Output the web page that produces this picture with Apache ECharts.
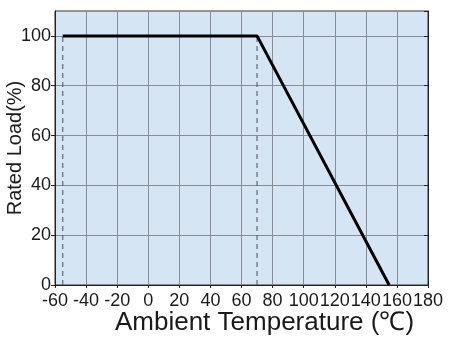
<!DOCTYPE html>
<html><head><meta charset="utf-8">
<script src="https://cdn.jsdelivr.net/npm/echarts@6/dist/echarts.min.js"></script>
<style>html,body{margin:0;padding:0;background:#fff}#c{width:450px;height:342px}</style>
</head><body><div id="c"></div>
<script>
var xTicks = [-60,-40,-20,0,20,40,60,80,100,120,140,160,180];
var yTicks = [0,20,40,60,80,100];
var deratingTemp = [-55, 70, 155];
var deratingLoad = [100, 100, 0];
var guideTemps = [-55, 70];
var guideLoad = [0, 100];

var chart = echarts.init(document.getElementById('c'));
var lineData = deratingTemp.map(function(t,i){return [t, deratingLoad[i]];});
var guides = guideTemps.map(function(t){
  return {type:'line', data:[[t, guideLoad[0]],[t, guideLoad[1]]], symbol:'none', silent:true,
    lineStyle:{color:'#4a4f57', width:1, type:[5,4]}, z:3};
});
var font = 'Liberation Sans, Arial, sans-serif';
chart.setOption({
  animation:false,
  grid:{left:55, right:22, top:11, bottom:57, containLabel:false, outerBoundsMode:'none',
    show:true, backgroundColor:'#d6e5f3', borderColor:'#333', borderWidth:1},
  xAxis:{type:'value', min:xTicks[0], max:xTicks[xTicks.length-1], interval:20,
    name:'Ambient Temperature (℃)', nameLocation:'middle', nameGap:25, nameMoveOverlap:false,
    nameTextStyle:{fontFamily:font, fontSize:26, color:'#1a1a1a', padding:[0,0,0,46]},
    axisLine:{show:true, onZero:false, lineStyle:{color:'#222'}},
    axisTick:{show:true, inside:false, length:3, lineStyle:{color:'#222'}},
    axisLabel:{fontFamily:font, fontSize:18, color:'#1a1a1a', margin:7},
    splitLine:{show:true, lineStyle:{color:'#868d97', width:1}}},
  yAxis:[{type:'value', min:0, max:110, interval:20,
    name:'Rated Load(%)', nameLocation:'middle', nameGap:30, nameRotate:90, nameMoveOverlap:false,
    nameTextStyle:{fontFamily:font, fontSize:20, color:'#1a1a1a'},
    axisLine:{show:true, onZero:false, lineStyle:{color:'#222'}},
    axisTick:{show:true, inside:false, length:4, lineStyle:{color:'#222'}},
    axisLabel:{fontFamily:font, fontSize:18, color:'#1a1a1a', margin:4, showMaxLabel:false,
      formatter:function(v){return yTicks.indexOf(v)>=0 ? String(v) : '';}},
    splitLine:{show:true, lineStyle:{color:'#868d97', width:1}}},
   {type:'value', min:0, max:110, interval:20, position:'right',
    axisLine:{show:true, onZero:false, lineStyle:{color:'#222'}},
    axisTick:{show:true, inside:true, length:4, lineStyle:{color:'#222'}},
    axisLabel:{show:false}, splitLine:{show:false}}],
  series:[{type:'line', data:lineData, symbol:'none', lineStyle:{color:'#000', width:3}, z:5}].concat(guides)
});
</script></body></html>
